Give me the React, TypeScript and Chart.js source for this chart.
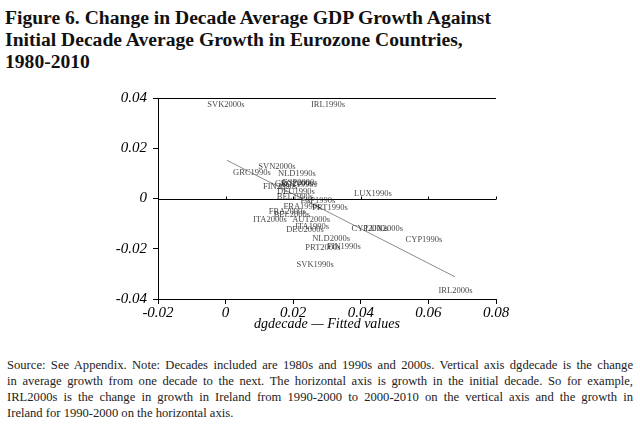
import React, { useEffect, useRef } from "react";
import { Chart, registerables } from "chart.js";

Chart.register(...registerables);

// marker labels (country + decade), plotted without markers
const labels = [
  "SVK2000s", "IRL1990s", "SVN2000s", "GRC1990s", "NLD1990s", "FIN2000s",
  "GRC2000s", "AUT1990s", "ESP2000s", "DEU1990s", "LUX1990s", "BEL1990s",
  "ESP1990s", "PRT1990s", "FRA1990s", "FRA2000s", "BEL2000s", "ITA2000s",
  "AUT2000s", "ITA1990s", "DEU2000s", "CYP2000s", "LUX2000s", "CYP1990s",
  "NLD2000s", "PRT2000s", "FIN1990s", "SVK1990s", "IRL2000s",
];
// growth in the initial decade
const initialGrowth = [
  0.0001, 0.0303, 0.0152, 0.0078, 0.0211, 0.0161,
  0.0202, 0.0214, 0.022, 0.0208, 0.0436, 0.0205,
  0.0273, 0.0309, 0.0226, 0.0182, 0.0196, 0.0131,
  0.0253, 0.0256, 0.0235, 0.0427, 0.0469, 0.0587,
  0.0312, 0.0288, 0.035, 0.0265, 0.068,
];
// dgdecade: change in growth to the next decade
const dgdecade = [
  0.0372, 0.0372, 0.0128, 0.0104, 0.01, 0.0048,
  0.006, 0.0056, 0.0064, 0.0028, 0.002, 0.0008,
  -0.0008, -0.0036, -0.0032, -0.0052, -0.0064, -0.0084,
  -0.0084, -0.0112, -0.0124, -0.012, -0.012, -0.0164,
  -0.016, -0.0196, -0.0192, -0.0264, -0.0368,
];
// fitted values at the ends of the data range
const fitX = [0.0004, 0.0679];
const fitY = [0.0152, -0.0312];

const xTicks = [-0.02, 0, 0.02, 0.04, 0.06, 0.08];
const yTicks = [-0.04, -0.02, 0, 0.02, 0.04];

const titleLines = [
  "Figure 6. Change in Decade Average GDP Growth Against",
  "Initial Decade Average Growth in Eurozone Countries,",
  "1980-2010",
];
const noteLines = [
  "Source: See Appendix. Note: Decades included are 1980s and 1990s and 2000s. Vertical axis dgdecade is the change",
  "in average growth from one decade to the next. The horizontal axis is growth in the initial decade. So for example,",
  "IRL2000s is the change in growth in Ireland from 1990-2000 to 2000-2010 on the vertical axis and the growth in",
  "Ireland for 1990-2000 on the horizontal axis.",
];

const fmt = (v: number) => (v === 0 ? "0" : v.toFixed(2));
const tickFont = { family: "Liberation Serif", size: 15, style: "italic" as const };

// reference lines at y=0 (with small ticks) and along the top of the plot
const refLines = {
  id: "refLines",
  beforeDatasetsDraw(chart: any) {
    const { ctx, chartArea, scales } = chart;
    const y = Math.round(scales.y.getPixelForValue(0)) + 0.5;
    const top = Math.round(scales.y.getPixelForValue(yTicks[yTicks.length - 1])) + 0.5;
    ctx.save();
    ctx.strokeStyle = "#000";
    ctx.lineWidth = 1;
    ctx.beginPath();
    ctx.moveTo(chartArea.left, y);
    ctx.lineTo(chartArea.right, y);
    ctx.moveTo(chartArea.left, top);
    ctx.lineTo(chartArea.right, top);
    xTicks.forEach((t) => {
      const x = Math.round(scales.x.getPixelForValue(t)) + 0.5;
      ctx.moveTo(x, y);
      ctx.lineTo(x, y - 3);
    });
    ctx.stroke();
    ctx.restore();
  },
};

// draws marker labels centred on each point
const markerLabels = {
  id: "markerLabels",
  afterDatasetsDraw(chart: any) {
    const { ctx } = chart;
    const meta = chart.getDatasetMeta(0);
    ctx.save();
    ctx.font = '8.5px "Liberation Serif"';
    ctx.fillStyle = "rgba(20,20,20,0.8)";
    ctx.textAlign = "center";
    ctx.textBaseline = "middle";
    meta.data.forEach((pt: any, i: number) => {
      ctx.fillText(labels[i], pt.x, pt.y);
    });
    ctx.restore();
  },
};

const ScatterChart: React.FC = () => {
  const canvasRef = useRef<HTMLCanvasElement | null>(null);

  useEffect(() => {
    const ctx = canvasRef.current?.getContext("2d");
    if (!ctx) return;

    const chart = new Chart(ctx, {
      type: "scatter",
      data: {
        datasets: [
          {
            label: "dgdecade",
            data: initialGrowth.map((x, i) => ({ x, y: dgdecade[i] })),
            pointRadius: 0,
          },
          {
            type: "line",
            label: "Fitted values",
            data: fitX.map((x, i) => ({ x, y: fitY[i] })),
            borderColor: "#8a8a8a",
            borderWidth: 1,
            pointRadius: 0,
            fill: false,
          } as any,
        ],
      },
      options: {
        animation: false,
        responsive: true,
        maintainAspectRatio: false,
        layout: { padding: { left: 0, top: 18, right: 144, bottom: 0 } },
        plugins: {
          legend: { display: false },
          tooltip: { enabled: false },
        },
        scales: {
          x: {
            type: "linear",
            min: -0.02,
            max: 0.08,
            afterBuildTicks: (s: any) => {
              s.ticks = xTicks.map((value) => ({ value }));
            },
            afterFit: (s: any) => {
              s.height = 43;
            },
            ticks: { font: tickFont, color: "#000", padding: 0, callback: (v: any) => fmt(Number(v)) },
            grid: { drawOnChartArea: false, tickLength: 5, tickColor: "#000" },
            border: { display: true, color: "#000", width: 1 },
            title: {
              display: true,
              text: "dgdecade \u2014 Fitted values",
              font: { ...tickFont, size: 14 },
              color: "#000",
              padding: { top: 0, bottom: 9 },
            },
          },
          y: {
            type: "linear",
            min: -0.04,
            max: 0.04,
            afterBuildTicks: (s: any) => {
              s.ticks = yTicks.map((value) => ({ value }));
            },
            afterFit: (s: any) => {
              s.width = 158;
            },
            ticks: { font: tickFont, color: "#000", padding: 6, callback: (v: any) => fmt(Number(v)) },
            grid: { drawOnChartArea: false, tickLength: 5, tickColor: "#000" },
            border: { display: true, color: "#000", width: 1 },
          },
        },
      },
      plugins: [refLines, markerLabels],
    });

    return () => {
      chart.destroy();
    };
  }, []);

  return (
    <div style={{ position: "absolute", left: 0, top: 80, width: 640, height: 262 }}>
      <canvas ref={canvasRef} />
    </div>
  );
};

export default function App() {
  useEffect(() => {
    document.body.style.margin = "0";
  }, []);

  return (
    <div style={{ position: "relative", width: 640, height: 426, background: "#fff", overflow: "hidden" }}>
      <div
        style={{
          position: "absolute",
          left: 5,
          top: 7,
          fontFamily: '"Liberation Serif", serif',
          fontWeight: "bold",
          fontSize: 19.6,
          lineHeight: "22px",
          color: "#111",
          whiteSpace: "nowrap",
        }}
      >
        {titleLines.map((t) => (
          <div key={t}>{t}</div>
        ))}
      </div>
      <ScatterChart />
      <div
        style={{
          position: "absolute",
          left: 7,
          top: 357,
          width: 626,
          fontFamily: '"Liberation Serif", serif',
          fontSize: 12.6,
          lineHeight: "16px",
          color: "#222",
        }}
      >
        {noteLines.map((t, i) => (
          <div
            key={i}
            style={{
              whiteSpace: "nowrap",
              textAlign: i < noteLines.length - 1 ? "justify" : "left",
              textAlignLast: i < noteLines.length - 1 ? "justify" : "left",
            }}
          >
            {t}
          </div>
        ))}
      </div>
    </div>
  );
}
